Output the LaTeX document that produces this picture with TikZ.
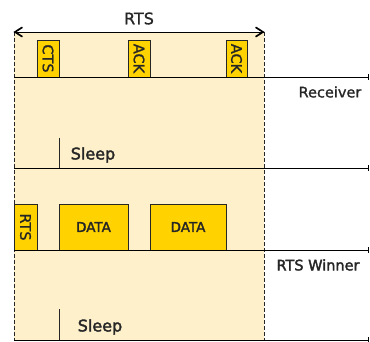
\documentclass[tikz,border=0pt]{standalone}
\usepackage{fontspec}
\setmainfont{DejaVu Sans}
\newfontfamily\heavyfont{DejaVu Sans}[FakeBold=2.2]
\newfontfamily\semifont{DejaVu Sans}[FakeBold=1.2]
\usetikzlibrary{arrows.meta}
\definecolor{shadebg}{HTML}{FDF0CB}
\definecolor{gold}{HTML}{FFD200}
\definecolor{ink}{HTML}{262626}
\begin{document}
\begin{tikzpicture}[x=1pt,y=-1pt,
  pkt/.style={draw=ink, fill=gold, line width=0.9pt, inner sep=0pt, text=ink,
    font=\semifont\fontsize{14.5}{14.5}\selectfont},
  lbl/.style={inner sep=0pt, text=ink, font=\semifont\fontsize{14.5}{14.5}\selectfont},
  sleeplbl/.style={inner sep=0pt, text=ink, font=\heavyfont\fontsize{16}{16}\selectfont},
  tline/.style={draw=black, line width=0.9pt, -{Bar[width=6pt,line width=1pt]}},
  bound/.style={draw=ink, line width=0.9pt, dash pattern=on 4pt off 2pt},
  sleepmark/.style={draw=ink, line width=0.9pt},
  span/.style={draw=black, line width=0.9pt},
  chevron/.style={draw=black, line width=1.7pt, line cap=round, line join=miter}]
\useasboundingbox (0,0) rectangle (370,342);
\fill[shadebg] (14,32) rectangle (264,340);
% boundary coordinates
\coordinate (tl) at (14,32);
\coordinate (tr) at (264,32);
\coordinate (bl) at (14,340);
\coordinate (br) at (264,340);
\draw[bound] (tl) -- (bl);
\draw[bound] (tr) -- (br);
\draw[span] (tl) -- node[lbl, above=7pt, font=\semifont\fontsize{16}{16}\selectfont] (rtslbl) {RTS} (tr);
\draw[chevron] ([shift={(8,-4.5)}]tl) -- ([shift={(1,0)}]tl) -- ([shift={(8,4.5)}]tl);
\draw[chevron] ([shift={(-8,-4.5)}]tr) -- ([shift={(-1,0)}]tr) -- ([shift={(-8,4.5)}]tr);
% timelines
\coordinate (r0) at (14,77);   \coordinate (r1) at (369,77);
\coordinate (s0) at (14,168);  \coordinate (s1) at (369,168);
\coordinate (w0) at (14,250);  \coordinate (w1) at (369,250);
\coordinate (z0) at (14,340);  \coordinate (z1) at (369,340);
% receiver packets
\node[pkt, rotate=-90, minimum width=37pt, minimum height=22pt] (cts) at (48,58.5) {CTS};
\node[pkt, rotate=-90, minimum width=37pt, minimum height=22pt] (ack1) at (139,58.5) {ACK};
\node[pkt, rotate=-90, minimum width=37pt, minimum height=21pt] (ack2) at (236.5,58.5) {ACK};
% winner packets
\node[pkt, rotate=-90, minimum width=46pt, minimum height=23pt] (rts) at (25.5,227) {RTS};
\node[pkt, minimum width=69pt, minimum height=46pt, font=\heavyfont\fontsize{13.5}{13.5}\selectfont] (data1) at (93.5,227) {DATA};
\node[pkt, minimum width=76pt, minimum height=46pt, font=\heavyfont\fontsize{13.5}{13.5}\selectfont] (data2) at (188,227) {DATA};
\draw[tline] (r0) -- (r1);
\draw[tline] (s0) -- (s1);
\draw[tline] (w0) -- (w1);
\draw[tline] (z0) -- (z1);
\node[lbl] (recv) at (330,92) {Receiver};
\node[lbl, font=\heavyfont\fontsize{14.5}{14.5}\selectfont] (winner) at (318,265) {RTS Winner};
% sleep markers
\coordinate (m1) at (59,138);
\coordinate (m1b) at (59,168);
\coordinate (m2) at (59,309);
\coordinate (m2b) at (59,340);
\draw[sleepmark] (m1) -- (m1b);
\draw[sleepmark] (m2) -- (m2b);
\node[sleeplbl] (sleep1) at (93,155) {Sleep};
\node[sleeplbl] (sleep2) at (100,327) {Sleep};
\end{tikzpicture}
\end{document}
